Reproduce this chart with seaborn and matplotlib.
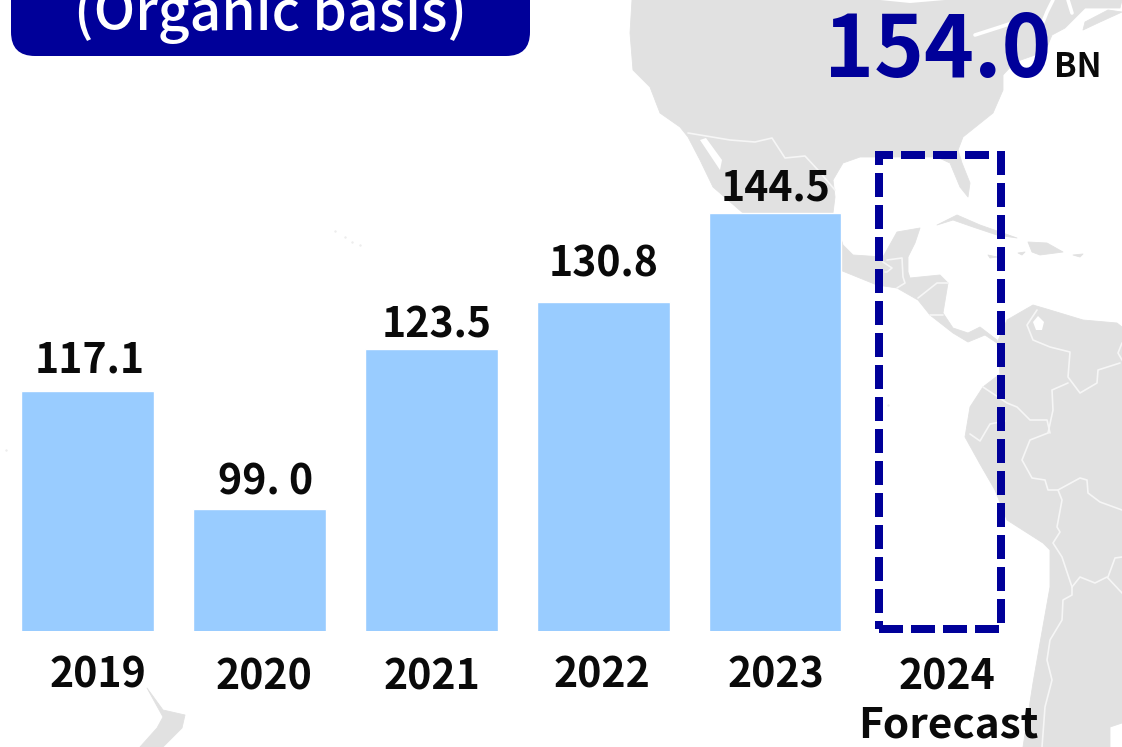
import matplotlib
matplotlib.use("Agg")
import matplotlib.pyplot as plt
import pandas as pd
import seaborn as sns
from matplotlib.patches import FancyBboxPatch, Polygon
from matplotlib.transforms import ScaledTranslation

# ---- data ----
years = ["2019", "2020", "2021", "2022", "2023"]
values = [117.1, 99.0, 123.5, 130.8, 144.5]
value_labels = ["117.1", "99. 0", "123.5", "130.8", "144.5"]
forecast_value = 154.0
forecast_label = "154.0"
unit_label = "BN"
tick_labels = ["2019", "2020", "2021", "2022", "2023", "2024"]
forecast_note = "Forecast"
title_text = "(Organic basis)"

# ---- styling ----
W, H = 1122, 747
DPI = 100
NAVY = "#000099"
BAR = "#99CCFF"
LAND = "#E1E1E1"
INK = "#0A0A0A"
FONT = ["Noto Sans CJK JP", "DejaVu Sans"]
BASE_PX = 631
Y_MIN = 80.2
PX_PER_UNIT = 6.505
STEP_PX = 171.9
FIRST_X_PX = 87.6
label_dx_px = [2, 6, 5, 0, 0]
label_gap_px = [18, 14, 12, 25, 12]
tick_dx_px = [10, 4, 1, -1, 1, 7]
tick_dy_px = [1, 0, 0, 1, 2, 0]

# map decoration (picture pixels)
land_shapes = [
    [(632, 0), (630, 33), (633, 70), (650, 87), (660, 113), (680, 127), (688, 137), (700, 160),
     (713, 187), (743, 213), (760, 240), (840, 270), (877, 285), (897, 288), (918, 300), (930, 315),
     (953, 333), (968, 342), (985, 335), (997, 343), (997, 340), (980, 327), (968, 333), (953, 328),
     (943, 313), (948, 283), (940, 275), (910, 278), (908, 272), (908, 257), (915, 243), (920, 228),
     (897, 232), (883, 257), (853, 255), (843, 245), (833, 213), (835, 197), (833, 180), (843, 163),
     (860, 157), (893, 157), (937, 157), (950, 163), (960, 187), (968, 197), (970, 183), (962, 163),
     (958, 150), (963, 137), (993, 113), (1003, 90), (1003, 75), (1015, 62), (1035, 55), (1047, 47),
     (1052, 35), (1065, 28), (1085, 8), (1120, 8), (1122, 0)],
    [(1083, 30), (1100, 22), (1122, 12), (1108, 10), (1085, 22)],
    [(997, 343), (1007, 320), (1033, 305), (1050, 310), (1083, 320), (1117, 323), (1122, 327),
     (1122, 723), (1110, 727), (1110, 747), (1023, 747), (1033, 683), (1040, 643), (1050, 587),
     (1050, 550), (1043, 543), (1007, 520), (995, 490), (980, 464), (965, 437), (970, 407),
     (983, 387), (1000, 374)],
    [(937, 225), (957, 215), (980, 225), (1017, 238), (997, 235), (973, 227), (953, 220)],
    [(1028, 242), (1047, 243), (1063, 252), (1040, 255), (1032, 252)],
    [(988, 255), (997, 257), (990, 258)],
    [(1073, 255), (1083, 254), (1080, 257)],
    [(1018, 253), (1025, 252), (1022, 255)],
    [(147, 688), (163, 710), (185, 715), (182, 728), (170, 740), (163, 747), (140, 747),
     (157, 728), (163, 717)],
]
water_shapes = [
    [(1033, 322), (1038, 316), (1044, 322), (1042, 330), (1036, 330)],
    [(880, 0), (910, 3), (945, 0)],
    [(720, 170), (700, 140), (706, 138), (722, 160)],
]
border_lines = [
    [(688, 133), (730, 140), (755, 142), (772, 138), (785, 158), (805, 156), (818, 170), (835, 190)],
    [(887, 260), (902, 258), (903, 277), (905, 283), (897, 288)],
    [(883, 262), (892, 268), (887, 272), (885, 272)],
    [(918, 298), (937, 283), (948, 283)],
    [(930, 315), (943, 315)],
    [(1037, 310), (1027, 325), (1033, 340), (1050, 347), (1070, 352), (1068, 377), (1080, 393),
     (1097, 383), (1098, 370), (1120, 363)],
    [(1068, 383), (1052, 390), (1053, 410), (1048, 433)],
    [(983, 387), (1007, 403), (1017, 407), (1030, 420), (1047, 420), (1050, 433)],
    [(970, 434), (980, 441), (990, 424), (1005, 421)],
    [(1048, 433), (1030, 440), (1022, 460), (1032, 478), (1045, 480), (1048, 490), (1058, 490)],
    [(1058, 490), (1080, 478), (1087, 480), (1088, 493), (1100, 502), (1122, 510)],
    [(1058, 490), (1062, 500), (1057, 527), (1060, 532), (1053, 543), (1062, 557), (1072, 587)],
    [(1072, 587), (1080, 577), (1095, 583), (1107, 577), (1122, 593)],
    [(1108, 577), (1115, 558), (1122, 557)],
    [(1072, 587), (1072, 595), (1063, 600), (1062, 620), (1050, 640), (1047, 660), (1052, 680),
     (1045, 707), (1042, 747)],
    [(1122, 343), (1118, 353), (1122, 360)],
]
lake_lines = [
    [(975, 35), (1000, 27), (1015, 22)],
    [(1053, 0), (1047, 12), (1043, 22)],
    [(1068, 0), (1072, 13)],
]
speck_x = [335, 345, 352, 360, 6, 888]
speck_y = [231, 237, 242, 245, 450, 405]

sns.set_theme(style="white")
plt.rcParams["font.family"] = FONT

fig = plt.figure(figsize=(W / DPI, H / DPI), dpi=DPI, facecolor="white")

# background map
bg = fig.add_axes([0, 0, 1, 1], zorder=0)
bg.set_xlim(0, W)
bg.set_ylim(H, 0)
bg.axis("off")
for shape in land_shapes:
    bg.add_patch(Polygon(shape, closed=True, fc=LAND, ec=LAND, lw=0.6, joinstyle="round"))
for shape in water_shapes:
    bg.add_patch(Polygon(shape, closed=True, fc="white", ec="none"))
for line in border_lines:
    bg.plot(*zip(*line), color="#F6F6F6", lw=1.2, solid_joinstyle="round")
for line in lake_lines:
    bg.plot(*zip(*line), color="white", lw=2.6, solid_capstyle="round")
bg.scatter(speck_x, speck_y, s=3, color="#EDEDED", linewidths=0)

# main chart
ax = fig.add_axes([0, (H - BASE_PX) / H, 1, BASE_PX / H], zorder=1)
ax.patch.set_alpha(0)
df = pd.DataFrame({"year": years, "value": values})
sns.barplot(data=df, x="year", y="value", color=BAR, saturation=1, width=132.6 / STEP_PX, ax=ax)
ax.set_xlim(-FIRST_X_PX / STEP_PX, (W - FIRST_X_PX) / STEP_PX)
ax.set_ylim(Y_MIN, Y_MIN + BASE_PX / PX_PER_UNIT)
sns.despine(ax=ax, left=True, bottom=True)
ax.set_xlabel("")
ax.set_ylabel("")
ax.set_yticks([])

# forecast outline
fc_x = (940 - FIRST_X_PX) / STEP_PX
ax.bar(fc_x, forecast_value - Y_MIN - 0.9, bottom=Y_MIN + 0.25, width=122 / STEP_PX,
       fill=False, edgecolor=NAVY, linewidth=8 * 72 / DPI, linestyle=(0, (3, 1)), clip_on=False)

# value labels
for bar, text, dx, gap in zip(ax.patches, value_labels, label_dx_px, label_gap_px):
    ax.annotate(text, (bar.get_x() + bar.get_width() / 2, bar.get_height()),
                xytext=(dx * 72 / DPI, gap * 72 / DPI), textcoords="offset points",
                ha="center", va="baseline", fontsize=29.5, fontweight="bold", color=INK)

# tick labels
ax.set_xticks([0, 1, 2, 3, 4, fc_x], tick_labels)
ax.tick_params(axis="x", length=0, pad=25 * 72 / DPI, labelsize=29.5, labelcolor=INK)
for tick, dx, dy in zip(ax.xaxis.get_major_ticks(), tick_dx_px, tick_dy_px):
    lab = tick.label1
    lab.set_fontweight("bold")
    lab.set_transform(lab.get_transform() + ScaledTranslation(dx / DPI, dy / DPI, fig.dpi_scale_trans))

# headline box and forecast figure
top = fig.add_axes([0, 0, 1, 1], zorder=2)
top.set_xlim(0, W)
top.set_ylim(H, 0)
top.axis("off")
bg.add_patch(FancyBboxPatch((11, -40), 519, 96, boxstyle="round,pad=0,rounding_size=24",
                            fc=NAVY, ec="none", mutation_aspect=1))
bg.text(271, 30, title_text, color="white", fontsize=39.7, fontweight="medium", ha="center", va="baseline")
top.text(1052, 77, forecast_label, color=NAVY, fontsize=61, fontweight="bold", ha="right", va="baseline")
top.text(1054, 77, unit_label, color=INK, fontsize=24, fontweight="bold", ha="left", va="baseline")
top.text(948, 738, forecast_note, color=INK, fontsize=30.5, fontweight="bold", ha="center", va="baseline")

fig.savefig("out.png", dpi=DPI)
